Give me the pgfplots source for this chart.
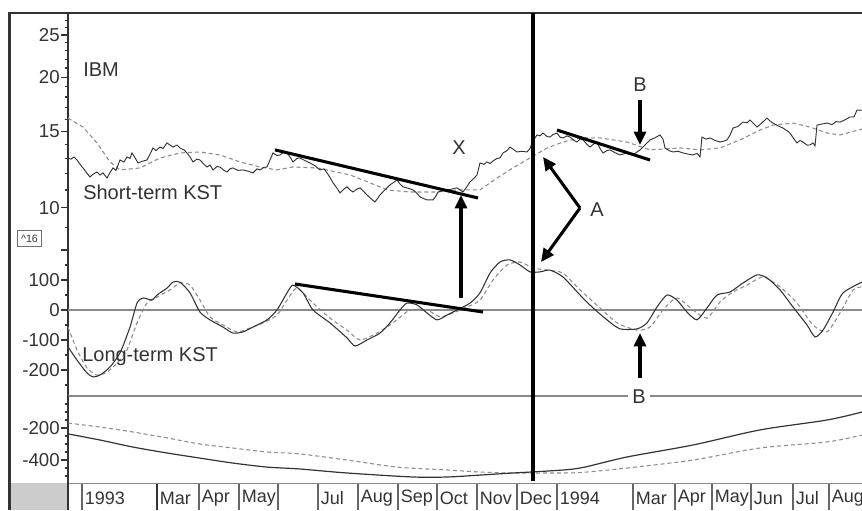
\documentclass[border=0pt]{standalone}
\usepackage{pgfplots}
\pgfplotsset{compat=1.18}
\usepackage{pgfplotstable}
\usepackage{fontspec}
\setmainfont{Liberation Sans}
\usetikzlibrary{arrows.meta}

\definecolor{ink}{HTML}{333333}
\definecolor{dashgray}{HTML}{8C8C8C}
\definecolor{rulegray}{HTML}{8A8A8A}

% x = bar position on the chart (Jan 1993 at 82, Dec 1993 at 517, Aug 1994 at 829)
\pgfplotstableread{
x v
68 13.03
71 12.95
74 13.10
77 12.89
80 12.60
83 12.36
86 12.10
90 11.78
93 11.95
97 12.10
100 11.90
103 12.04
107 11.72
110 12.05
113 12.36
116 12.20
120 12.89
124 12.75
127 13.10
130 13.00
132 13.38
135 13.05
138 12.69
142 12.80
147 12.89
150 13.30
153 13.74
156 13.55
160 13.81
163 13.70
167 14.11
170 13.95
173 13.81
177 13.95
180 13.74
184 13.60
187 13.38
190 13.10
193 12.76
197 12.95
200 12.89
204 12.60
207 12.42
210 12.55
213 12.23
217 12.45
220 12.42
224 12.20
227 12.10
230 12.30
233 12.36
238 12.20
243 12.23
248 12.15
253 12.04
257 12.30
260 12.23
264 12.40
267 12.42
270 12.89
273 13.38
277 13.20
280 13.24
284 13.45
287 13.38
290 13.10
293 12.76
297 13.00
300 13.03
305 12.85
310 12.69
315 12.50
320 12.23
324 12.30
327 12.04
330 11.75
333 11.42
337 11.10
340 10.83
344 11.05
347 11.18
350 11.00
353 10.88
357 11.05
360 11.12
363 10.95
367 10.71
371 10.50
375 10.32
378 10.55
380 10.71
384 10.95
387 11.12
390 11.30
393 11.42
397 11.60
400 11.35
403 11.18
408 11.10
413 11.00
417 10.80
420 10.60
424 10.50
427 10.43
433 10.43
436 10.65
438 10.88
443 10.95
447 11.00
452 11.05
457 11.12
460 11.00
463 10.88
467 11.20
470 11.48
474 11.70
477 11.91
480 12.69
484 12.60
487 12.76
490 12.65
493 12.82
497 13.00
500 13.03
503 13.38
507 13.55
510 13.81
514 13.60
517 13.45
522 13.50
527 13.45
530 13.70
532 14.11
535 14.50
537 14.72
540 14.65
543 14.87
547 14.60
550 14.56
553 14.75
557 14.87
560 14.55
563 14.49
567 14.65
570 14.56
574 14.30
577 14.18
580 14.40
583 14.34
587 14.00
590 13.81
594 14.05
597 14.18
600 13.70
603 13.38
607 13.55
610 13.60
615 13.40
620 13.24
625 13.35
630 13.38
634 13.30
637 13.45
640 13.60
643 13.81
647 14.10
650 14.34
655 14.50
660 14.72
663 14.40
665 13.74
669 13.55
673 13.45
678 13.50
683 13.38
688 13.30
693 13.24
697 13.35
700 13.10
702 14.56
706 14.40
710 14.49
715 14.30
720 14.18
724 14.25
727 14.34
730 14.70
733 15.27
738 15.40
743 15.76
747 15.70
750 15.93
754 15.60
757 15.35
762 15.70
767 16.10
770 15.85
773 15.68
778 15.45
783 15.27
787 15.05
790 14.87
794 14.40
797 14.11
800 14.30
803 14.18
807 13.95
810 13.96
813 14.11
815 13.90
817 15.51
822 15.60
827 15.68
832 15.55
836 15.80
840 15.76
845 15.95
850 16.19
854 16.20
857 16.80
862 16.80
}\ibm

\pgfplotstableread{
x v
68 16.10
83 15.35
97 14.11
110 12.76
120 12.23
140 12.36
160 13.03
180 13.38
200 13.45
220 13.24
240 12.76
260 12.42
277 12.23
293 12.42
317 12.36
350 11.91
370 11.42
387 11.00
410 10.88
437 10.88
460 11.00
480 11.00
497 11.72
513 12.36
530 13.03
547 13.74
563 14.18
580 14.49
600 14.49
627 14.18
650 13.60
680 13.74
700 13.60
720 13.74
740 14.34
760 15.11
773 15.51
793 15.68
810 15.35
827 14.87
840 14.72
862 15.19
}\ibmavg

\pgfplotstableread{
x v
68 -123
77 -167
87 -210
93 -223
100 -217
110 -190
120 -143
130 -57
137 23
143 40
152 33
157 50
167 73
173 93
180 93
190 57
200 -7
210 -33
223 -57
233 -77
243 -73
253 -57
267 -33
277 0
287 57
293 83
303 57
313 0
330 -43
347 -93
355 -120
367 -100
380 -77
390 -43
400 0
407 23
417 17
427 -10
437 -33
447 -17
457 0
470 23
480 57
490 123
500 160
510 167
520 150
530 127
540 127
550 133
563 110
580 50
593 7
607 -33
620 -63
637 -63
647 -43
657 10
667 50
677 33
687 -7
697 -33
707 7
717 50
730 60
743 90
757 117
767 107
780 67
793 10
807 -50
815 -90
823 -67
833 -7
843 57
862 93
}\kstlong

\pgfplotstableread{
x v
68 -57
77 -133
87 -193
97 -217
107 -207
117 -177
127 -133
137 -43
147 23
157 43
170 67
180 90
190 83
200 33
210 -23
223 -50
237 -73
250 -60
263 -43
277 -17
287 33
297 73
313 23
330 -27
347 -67
360 -100
377 -77
393 -43
410 0
427 0
440 -23
453 -10
467 10
480 33
493 100
507 150
520 160
533 140
547 133
563 123
580 67
600 7
617 -43
637 -67
650 -57
663 0
677 40
693 0
707 -27
720 27
733 60
747 83
763 110
780 77
797 23
813 -50
827 -73
840 -10
853 67
862 77
}\kstsignal

\pgfplotstableread{
x v
68 -237
100 -275
133 -319
167 -356
200 -388
233 -419
267 -444
300 -456
347 -481
413 -506
447 -506
480 -494
513 -481
547 -469
580 -450
627 -381
693 -306
760 -212
827 -150
862 -100
}\lowsolid

\pgfplotstableread{
x v
68 -169
100 -194
133 -225
167 -262
200 -300
233 -325
267 -350
300 -362
347 -400
397 -444
447 -462
480 -475
513 -481
547 -481
580 -478
627 -450
693 -400
760 -325
827 -287
862 -244
}\lowdash

\pgfplotsset{
  panel/.style={
    scale only axis, width=595.5pt, xmin=68, xmax=862,
    anchor=south west, clip=false,
    axis x line=none, axis y line*=left,
    tick align=outside, major tick length=5pt, minor tick length=2.6pt,
    y axis line style={ink, line width=1.1pt},
    every tick/.style={ink, line width=0.9pt},
    yticklabel style={font=\fontsize{14}{15}\selectfont, text=ink, inner sep=1pt},
  },
}
\tikzset{
  price/.style={ink, line width=0.7pt},
  avg/.style={dashgray, line width=0.8pt, dash pattern=on 3pt off 2.2pt},
  trend/.style={black, line width=2.3pt},
}

\begin{document}
\begin{tikzpicture}[x=0.75pt, y=0.75pt]
\clip (0,0) rectangle (862,510);

% top panel: price, log scale
\begin{axis}[panel, at={(51pt,195pt)}, height=177.75pt,
    ymode=log, ymin=8, ymax=28.1,
    ytick={10,15,20,25}, yticklabels={10,15,20,25},
    minor ytick={8,9,11,12,13,14,16,17,18,19,21,22,23,24,26,27,28}]
  \addplot[avg] table[x=x, y=v] {\ibmavg};
  \addplot[price] table[x=x, y=v] {\ibm};
  \draw[trend] (axis cs:275,13.60) -- (axis cs:478,10.54);
  \draw[trend] (axis cs:557,15.11) -- (axis cs:650,12.89);
\end{axis}

% middle panel: long-term KST
\begin{axis}[panel, at={(51pt,85.5pt)}, height=109.5pt,
    ymin=-286.7, ymax=200,
    ytick={-200,-100,0,100,200}, yticklabels={-200,-100,0,100,},
    minor ytick={-250,-150,-50,50,150}]
  \draw[rulegray, line width=1pt] (axis cs:68,0) -- (axis cs:862,0);
  \draw[rulegray, line width=1pt] (rel axis cs:0,0) -- (rel axis cs:1,0);
  \addplot[avg, smooth, tension=0.4] table[x=x, y=v] {\kstsignal};
  \addplot[price, line width=0.8pt, smooth, tension=0.4] table[x=x, y=v] {\kstlong};
  \draw[trend] (axis cs:295,86.7) -- (axis cs:483,-6.7);
\end{axis}

% bottom panel
\begin{axis}[panel, at={(51pt,18.75pt)}, height=66.75pt,
    ymin=-556, ymax=0,
    ytick={-400,-200}, yticklabels={-400,-200},
    minor ytick={-500,-450,-350,-300,-250,-150,-100,-50}]
  \addplot[avg, smooth] table[x=x, y=v] {\lowdash};
  \addplot[price, line width=0.9pt, smooth] table[x=x, y=v] {\lowsolid};
\end{axis}

% frame and date strip
\fill[gray!40] (11,0) rectangle (68,27);
\draw[rulegray, line width=0.9pt] (68,26.5) -- (862,26.5);
\draw[ink, line width=2.2pt] (8,497) -- (862,497);
\draw[ink, line width=2.4pt] (9.5,0) -- (9.5,498);
\draw[ink, line width=1.1pt] (68,0) -- (68,27);
\foreach \s/\m in {82/1993,199/Apr,239/May,278/,318/Jul,358/Aug,398/Sep,437/Oct,477/Nov,517/Dec,557/1994,633/Mar,675/Apr,712/May,751/Jun,793/Jul,829/Aug}{
  \draw[ink!75, line width=0.8pt] (\s,0) -- (\s,26.5);
  \node[anchor=west, inner sep=0, text=ink, font=\fontsize{13.5}{14}\selectfont] at (\s+2.5,12) {\m};
}
\draw[ink, line width=1.6pt] (157,0) -- (157,26.5);
\node[anchor=west, inner sep=0, text=ink, font=\fontsize{13.5}{14}\selectfont] at (159.5,12) {Mar};

\node[draw=ink!70, line width=0.6pt, inner sep=1pt, minimum width=18.5pt, minimum height=12.5pt,
      text=ink, font=\fontsize{8}{9}\selectfont] at (29.5,271.5) {\textasciicircum16};

% Dec 1993 marker
\draw[black, line width=2.4pt] (533,29) -- (533,497);

% labels
\begin{scope}[every node/.style={inner sep=0, text=ink, font=\fontsize{15}{16}\selectfont}]
  \node[anchor=west] at (83,440) {IBM};
  \node[anchor=west] at (83,318) {Short-term KST};
  \node[anchor=west] at (82,153) {Long-term KST};
  \node at (459,362) {X};
  \node at (597,300) {A};
  \node at (640,425) {B};
  \node[fill=white, inner xsep=3pt, inner ysep=1pt] at (639,113) {B};
\end{scope}

% arrows
\begin{scope}[line width=2.3pt, black, -{Triangle[length=10pt, width=9pt]}]
  \draw (461,212) -- (461,315);
  \draw (580,302) -- (543,353);
  \draw (580,302) -- (541,248);
  \draw (640,410) -- (640,365);
  \draw (640,132) -- (640,177);
\end{scope}
\end{tikzpicture}
\end{document}
